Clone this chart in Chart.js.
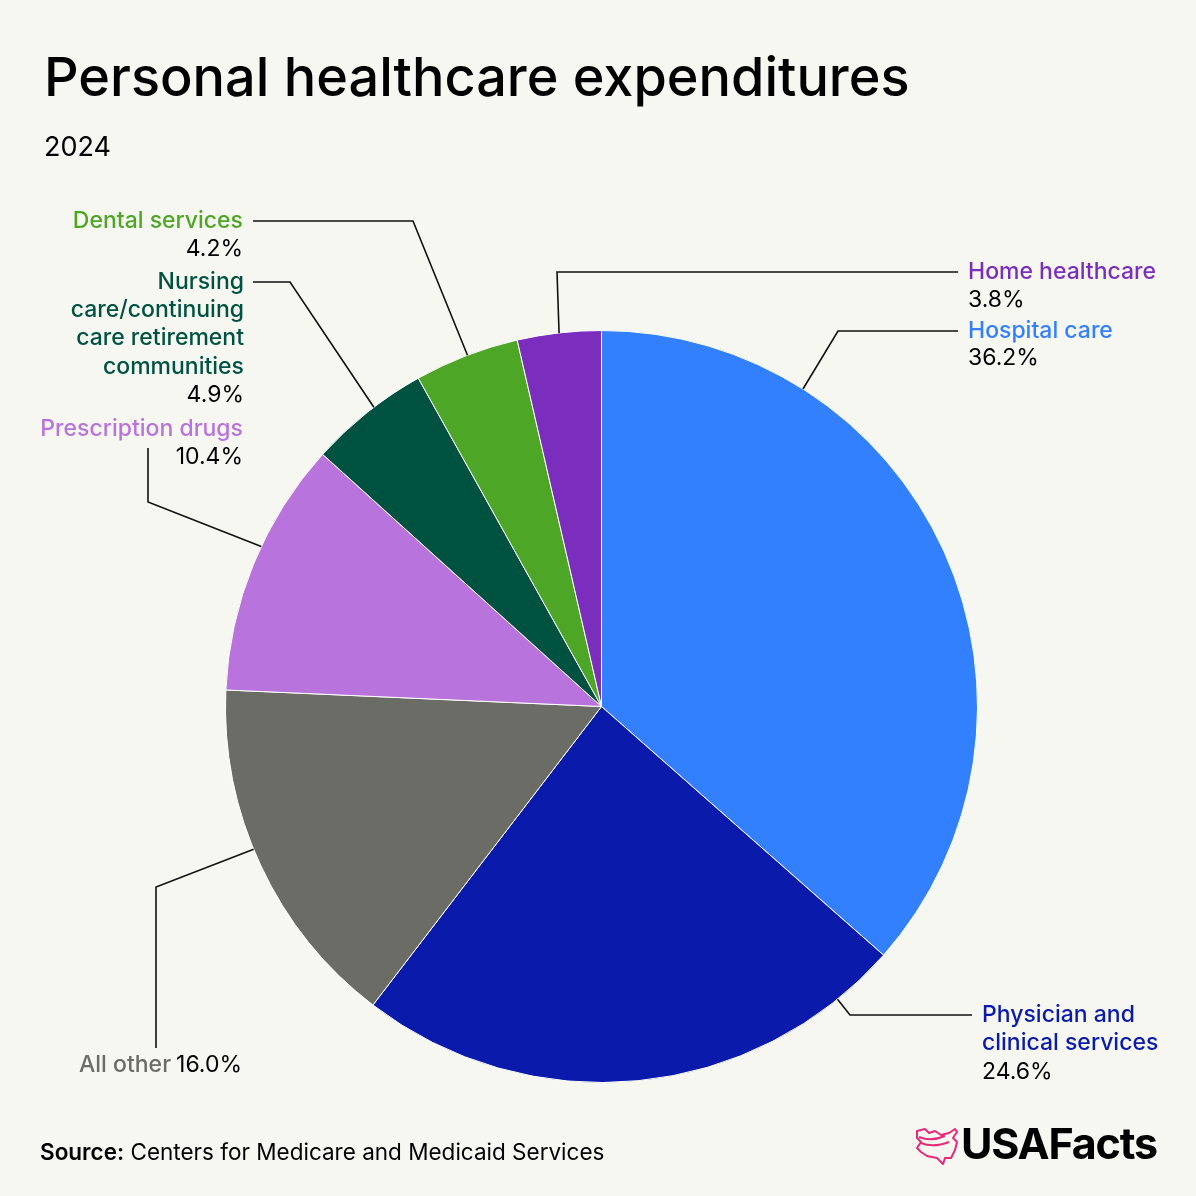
<!DOCTYPE html>
<html>
<head>
<meta charset="utf-8">
<script src="https://cdn.jsdelivr.net/npm/chart.js@4.4.1/dist/chart.umd.min.js"></script>
<style>
  html, body { margin:0; padding:0; background:#F7F7F2; }
  #wrap { position:relative; width:1196px; height:1196px; overflow:hidden; background:#F7F7F2; }
  #title { position:absolute; left:44px; top:44px; font-family:Inter, "Liberation Sans", sans-serif; font-weight:500; font-size:54px; color:#000; letter-spacing:0px; white-space:nowrap; }
  #sub { position:absolute; left:44px; top:130px; font-family:Inter, "Liberation Sans", sans-serif; font-size:27px; color:#000; letter-spacing:0px; }
  #src { position:absolute; left:40px; top:1138px; font-family:Inter, "Liberation Sans", sans-serif; font-size:22.5px; color:#000; white-space:nowrap; }
  #src b { font-weight:600; }
  #logo { position:absolute; left:961px; top:1117px; font-family:Inter, "Liberation Sans", sans-serif; font-weight:700; font-size:43px; color:#000; letter-spacing:-1.2px; }
  #icon { position:absolute; left:915px; top:1128px; }
  canvas { position:absolute; left:0; top:0; }
</style>
</head>
<body>
<div id="wrap">
  <canvas id="c" width="1196" height="1196"></canvas>
  <div id="title">Personal healthcare expenditures</div>
  <div id="sub">2024</div>
  <div id="src"><b>Source:</b> Centers for Medicare and Medicaid Services</div>
  <svg id="icon" width="46" height="38" viewBox="0 0 46 38"><path d="M2 3 L10 1 L14 5 L20 3 L26 7 L34 5 L40 1 L42 4 L38 10 L42 14 L40 22 L36 30 L30 30 L28 36 L22 30 L12 28 L6 24 L2 20 L6 14 L2 10 Z M4 9 Q16 14 30 8 M6 15 Q18 20 34 14" fill="none" stroke="#E8297A" stroke-width="2" stroke-linejoin="round"/></svg>
  <div id="logo">USAFacts</div>
</div>
<script>
// ---- data ----
const categories = ["Hospital care", "Physician and clinical services", "All other", "Prescription drugs", "Nursing care/continuing care retirement communities", "Dental services", "Home healthcare"];
// printed percentages (as labelled in the reference)
const valueLabels = ["36.2%", "24.6%", "16.0%", "10.4%", "4.9%", "4.2%", "3.8%"];
// slice sizes as drawn in the reference pie
const sliceShares = [36.5, 23.9, 15.3, 11.0, 5.2, 4.5, 3.6];
const colors = ["#3380FF", "#0A1AAA", "#6B6C66", "#B873DC", "#005240", "#4EA626", "#7B2EBD"];

// ---- label layout (annotation placement only) ----
// anchorFrac: where on the rim (fraction of full turn from 12 o'clock, clockwise) the leader starts
const labelLayout = [
  { anchorFrac: 0.090, path: [[838,331],[958,331]], align:"left", x:968, lines:[[0,331],[1,358]] },
  { anchorFrac: 0.392, path: [[850,1015],[972,1015]], align:"left", x:982, lines:[["Physician and",1015],["clinical services",1043],[1,1072]] },
  { anchorFrac: 0.688, path: [[156,887],[156,1048]], align:"right", x:242, inline:1065 },
  { anchorFrac: 0.820, path: [[148,502],[148,448]], align:"right", x:243, lines:[[0,429],[1,457]] },
  { anchorFrac: 0.8965, path: [[290,282],[253,282]], align:"right", x:244, lines:[["Nursing",282],["care/continuing",310],["care retirement",338],["communities",367],[1,395]] },
  { anchorFrac: 0.942, path: [[413,221],[253,221]], align:"right", x:243, lines:[[0,221],[1,249]] },
  { anchorFrac: 0.982, path: [[557,272],[958,272]], align:"left", x:968, lines:[[0,272],[1,300]] }
];

const catFont = '500 23px Inter, "Liberation Sans", sans-serif';
const valFont = '400 23px Inter, "Liberation Sans", sans-serif';

const leaderPlugin = {
  id: 'leaders',
  afterDatasetsDraw(chart) {
    const ctx = chart.ctx;
    const meta = chart.getDatasetMeta(0);
    ctx.save();
    meta.data.forEach((arc, i) => {
      const p = arc.getProps(['x','y','outerRadius'], true);
      const L = labelLayout[i];
      const ang = -Math.PI/2 + L.anchorFrac * 2 * Math.PI;
      const sx = p.x + Math.cos(ang) * p.outerRadius;
      const sy = p.y + Math.sin(ang) * p.outerRadius;
      ctx.beginPath();
      ctx.strokeStyle = "#111";
      ctx.lineWidth = 1.6;
      ctx.moveTo(sx, sy);
      L.path.forEach(pt => ctx.lineTo(pt[0], pt[1]));
      ctx.stroke();

      ctx.textBaseline = 'middle';
      if (L.inline) {
        ctx.textAlign = 'right';
        ctx.font = valFont;
        ctx.fillStyle = '#000';
        ctx.fillText(valueLabels[i], L.x, L.inline);
        const w = ctx.measureText(valueLabels[i]).width + 5;
        ctx.font = catFont;
        ctx.fillStyle = colors[i];
        ctx.fillText(categories[i], L.x - w, L.inline);
      } else {
        ctx.textAlign = L.align;
        L.lines.forEach(([t, y]) => {
          if (t === 1) { ctx.font = valFont; ctx.fillStyle = '#000'; ctx.fillText(valueLabels[i], L.x, y); }
          else { ctx.font = catFont; ctx.fillStyle = colors[i]; ctx.fillText(t === 0 ? categories[i] : t, L.x, y); }
        });
      }
    });
    ctx.restore();
  }
};

new Chart(document.getElementById('c'), {
  type: 'pie',
  data: {
    labels: categories,
    datasets: [{
      data: sliceShares,
      backgroundColor: colors,
      borderColor: '#FFFFFF',
      borderWidth: 1
    }]
  },
  options: {
    responsive: false,
    animation: false,
    layout: { padding: { left: 225, right: 218, top: 330, bottom: 113 } },
    plugins: { legend: { display: false }, tooltip: { enabled: false } }
  },
  plugins: [leaderPlugin]
});
</script>
</body>
</html>
